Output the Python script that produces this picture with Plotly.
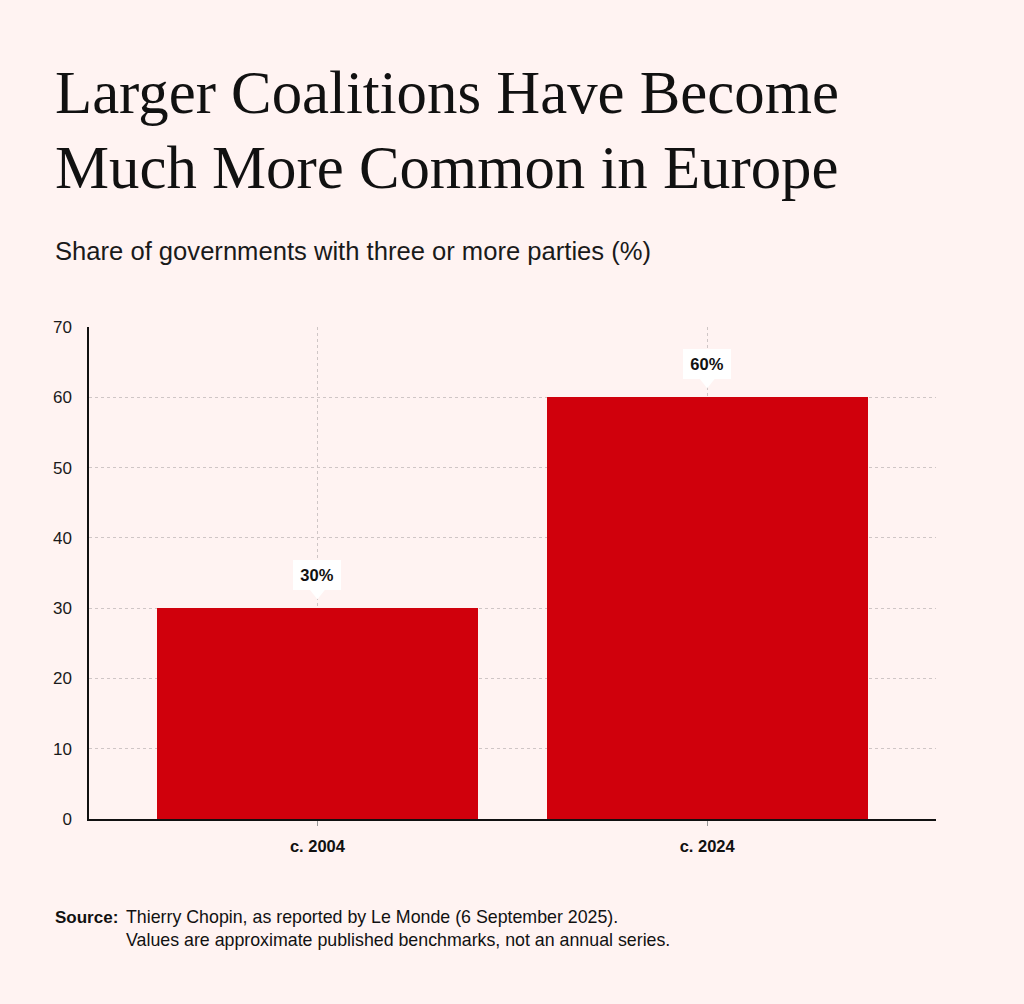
import plotly.graph_objects as go

categories = ["c. 2004", "c. 2024"]
values = [30, 60]
value_labels = ["30%", "60%"]
y_ticks = [0, 10, 20, 30, 40, 50, 60, 70]

BG = "#FFF3F2"
RED = "#D0000C"
W, H = 1024, 1004
L, R, T, B = 89, 88, 327, 185
PW, PH = W - L - R, H - T - B


def px_x(p):
    return (p - L) / PW


def px_y(p):
    return (H - B - p) / PH


fig = go.Figure()
fig.add_trace(go.Bar(
    x=list(range(len(categories))), y=values, marker_color=RED,
    marker_line_width=0, width=0.824, hoverinfo="skip",
))

sans = "Liberation Sans, Arial, sans-serif"
serif = "Liberation Serif, Times New Roman, serif"

annotations = [
    dict(text="Larger Coalitions Have Become", x=px_x(53), y=px_y(92.5),
         font=dict(family=serif, size=60.8, color="#111")),
    dict(text="Much More Common in Europe", x=px_x(53), y=px_y(168),
         font=dict(family=serif, size=60.8, color="#111")),
    dict(text="Share of governments with three or more parties (%)", x=px_x(53), y=px_y(251),
         font=dict(family=sans, size=25.6, color="#1a1a1a")),
    dict(text="<b>Source:</b>", x=px_x(53), y=px_y(917),
         font=dict(family=sans, size=17, color="#111")),
    dict(text="Thierry Chopin, as reported by Le Monde (6 September 2025).", x=px_x(124), y=px_y(917),
         font=dict(family=sans, size=17.8, color="#111")),
    dict(text="Values are approximate published benchmarks, not an annual series.", x=px_x(124), y=px_y(940),
         font=dict(family=sans, size=17.8, color="#111")),
]
for a in annotations:
    a.update(xref="paper", yref="paper", xanchor="left", yanchor="middle", showarrow=False)

shapes = []
for i, (v, lab) in enumerate(zip(values, value_labels)):
    annotations.append(dict(
        x=i, y=v, xref="x", yref="y", text="<b>" + lab + "</b>", showarrow=False,
        yshift=33, yanchor="middle", xanchor="center", bgcolor="#FFFFFF",
        borderpad=4, borderwidth=0, width=40, height=22,
        font=dict(family=sans, size=16.5, color="#111"),
    ))
    shapes.append(dict(
        type="path", xref="x", yref="y", xsizemode="pixel", ysizemode="pixel",
        xanchor=i, yanchor=v, path="M -8,19 L 8,19 L 0,9 Z",
        fillcolor="#FFFFFF", line=dict(width=0), layer="above",
    ))

fig.update_layout(
    width=W, height=H, margin=dict(l=L, r=R, t=T, b=B),
    paper_bgcolor=BG, plot_bgcolor=BG, showlegend=False,
    annotations=annotations, shapes=shapes,
    xaxis=dict(
        tickmode="array", tickvals=list(range(len(categories))), ticktext=["<b>" + c + "</b>" for c in categories],
        range=[-0.586, 1.587], showgrid=True, gridcolor="#CFC6C6", griddash="3px,3px", gridwidth=1.2,
        showline=True, linecolor="#111", linewidth=1.5, ticks="outside", ticklen=5, tickcolor="#999",
        ticklabelstandoff=6,
        tickfont=dict(family=sans, size=16.5, color="#111"), zeroline=False, fixedrange=True,
    ),
    yaxis=dict(
        tickvals=y_ticks, range=[0, 70], showgrid=True, gridcolor="#CFC6C6", griddash="3px,3px", gridwidth=1.2,
        showline=True, linecolor="#111", linewidth=1.5, ticks="", ticklabelstandoff=12,
        tickfont=dict(family=sans, size=17, color="#1a1a1a"), zeroline=False, fixedrange=True,
    ),
    bargap=0,
)

fig.write_html(
    "out.html", config={"displayModeBar": False},
    post_script="document.body.style.margin='0';document.body.style.background='" + BG + "';",
)
